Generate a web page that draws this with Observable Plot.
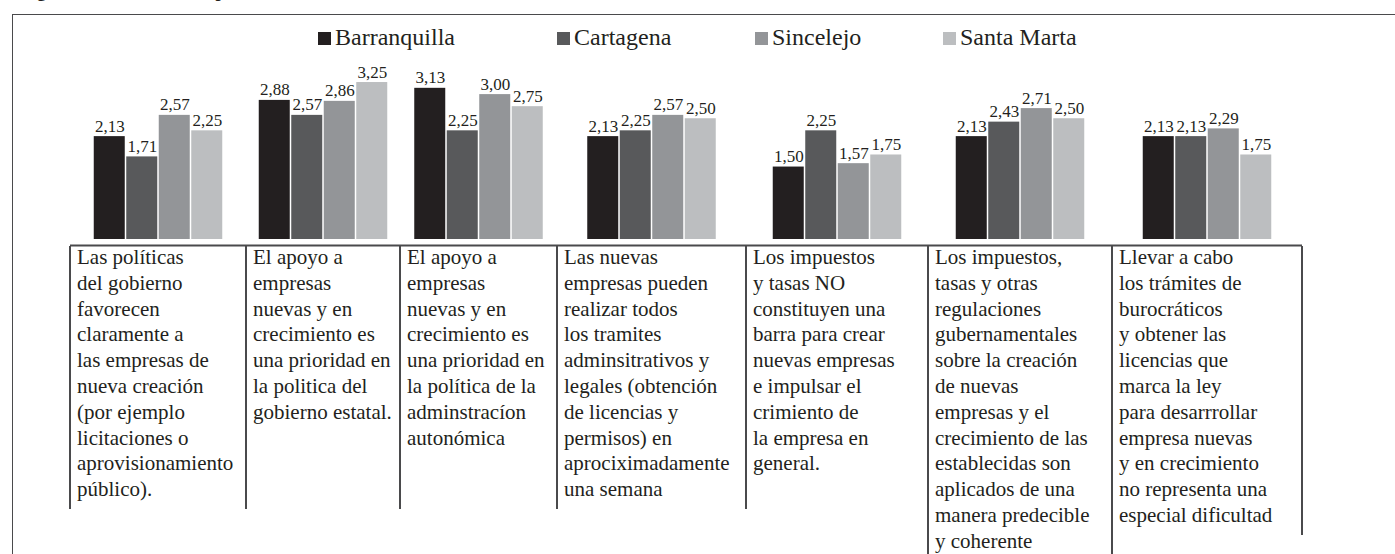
<!DOCTYPE html>
<html>
<head>
<meta charset="utf-8">
<script src="https://cdn.jsdelivr.net/npm/d3@7"></script>
<script src="https://cdn.jsdelivr.net/npm/@observablehq/plot@0.6"></script>
<style>
html, body { margin: 0; padding: 0; background: #fff; }
#fig { position: relative; width: 1395px; height: 554px; overflow: hidden;
  font-family: "Liberation Serif", "Times New Roman", serif; color: #231f20; }
#fig svg { position: absolute; left: 0; top: 0; }
.title { position: absolute; left: 21px; top: -18px; font-size: 18px; line-height: 18px; font-weight: bold; white-space: nowrap; }
.box { position: absolute; left: 12px; top: 14px; width: 1600px; height: 800px; border: 1.5px solid #4a4a4c; box-sizing: border-box; }
.leg { position: absolute; top: 25px; font-size: 24px; line-height: 24px; white-space: nowrap; }
.leg i { display: inline-block; width: 13px; height: 13px; position: relative; top: 0px; margin-right: 4px; }
.cell { position: absolute; top: 245px; font-size: 21px; line-height: 25.8px; white-space: pre; box-sizing: border-box; padding-left: 7px; }
.sep { position: absolute; top: 246px; width: 1.6px; background: #4a4a4c; }
</style>
</head>
<body>
<div id="fig"></div>
<script>
// ---- data ----
const categories = [
  "Las políticas\ndel gobierno\nfavorecen\nclaramente a\nlas empresas de\nnueva creación\n(por ejemplo\nlicitaciones o\naprovisionamiento\npúblico).",
  "El apoyo a\nempresas\nnuevas y en\ncrecimiento es\nuna prioridad en\nla politica del\ngobierno estatal.",
  "El apoyo a\nempresas\nnuevas y en\ncrecimiento es\nuna prioridad en\nla política de la\nadminstracíon\nautonómica",
  "Las nuevas\nempresas pueden\nrealizar todos\nlos tramites\nadminsitrativos y\nlegales (obtención\nde licencias y\npermisos) en\naprociximadamente\nuna semana",
  "Los impuestos\ny tasas NO\nconstituyen una\nbarra para crear\nnuevas empresas\ne impulsar el\ncrimiento de\nla empresa en\ngeneral.",
  "Los impuestos,\ntasas y otras\nregulaciones\ngubernamentales\nsobre la creación\nde nuevas\nempresas y el\ncrecimiento de las\nestablecidas son\naplicados de una\nmanera predecible\ny coherente",
  "Llevar a cabo\nlos trámites de\nburocráticos\ny obtener las\nlicencias que\nmarca la ley\npara desarrrollar\nempresa nuevas\ny en crecimiento\nno representa una\nespecial dificultad"
];
const series = ["Barranquilla", "Cartagena", "Sincelejo", "Santa Marta"];
const barranquilla = [2.13, 2.88, 3.13, 2.13, 1.50, 2.13, 2.13];
const cartagena    = [1.71, 2.57, 2.25, 2.25, 2.25, 2.43, 2.13];
const sincelejo    = [2.57, 2.86, 3.00, 2.57, 1.57, 2.71, 2.29];
const santaMarta   = [2.25, 3.25, 2.75, 2.50, 1.75, 2.50, 1.75];
const titleText = "Figura 4. Políticas del emprendimiento";

// ---- layout / style ----
const serif = "Liberation Serif";
const colors = ["#231f20", "#58595b", "#939598", "#bcbec0"];
const colEdges = [70, 246, 400, 557, 746, 928, 1112, 1302];
const legendLeft = [318, 557, 755, 943];
const barW = 31, barStep = 32.5;

const values = [barranquilla, cartagena, sincelejo, santaMarta];
const rows = [];
series.forEach((s, j) => categories.forEach((c, gi) => rows.push({series: s, category: c, gi, value: values[j][gi]})));

const fmt = v => d3.format(".2f")(v).replace(".", ",");

const marks = [];
series.forEach((s, j) => {
  const data = rows.filter(d => d.series === s);
  const off = (j - (series.length - 1) / 2) * barStep;
  marks.push(Plot.rect(data, {
    x1: d => d.gi + 0.5, x2: d => d.gi + 0.5, y1: 0, y2: "value",
    fill: colors[j], insetLeft: -barW / 2, insetRight: -barW / 2, dx: off
  }));
  marks.push(Plot.text(data, {
    x: d => d.gi + 0.5, y: "value", text: d => fmt(d.value),
    dx: off, dy: -5, lineAnchor: "bottom", fontSize: 17, fontFamily: serif, fill: "#231f20"
  }));
});
marks.push(Plot.ruleY([0], {dy: 6, stroke: "#4a4a4c", strokeWidth: 2.2}));

const chart = Plot.plot({
  width: 1395, height: 554,
  marginLeft: colEdges[0], marginRight: 1395 - colEdges[colEdges.length - 1],
  marginTop: 60, marginBottom: 315,
  x: {type: "linear", domain: d3.range(colEdges.length), range: colEdges, axis: null},
  y: {domain: [0, 3.5], range: [239, 239 - 3.5 * 48.3], axis: null},
  style: {fontFamily: serif, background: "transparent", color: "#231f20"},
  marks
});

const fig = document.getElementById("fig");
fig.appendChild(chart);

// outer box and cropped title
const box = document.createElement("div"); box.className = "box"; fig.appendChild(box);
const title = document.createElement("div"); title.className = "title"; title.textContent = titleText; fig.appendChild(title);

// legend
series.forEach((s, j) => {
  const el = document.createElement("div");
  el.className = "leg";
  el.style.left = legendLeft[j] + "px";
  const sw = document.createElement("i"); sw.style.background = colors[j];
  el.appendChild(sw);
  el.appendChild(document.createTextNode(s));
  fig.appendChild(el);
});

// category table
const lineCounts = categories.map(c => c.split("\n").length);
categories.forEach((c, i) => {
  const el = document.createElement("div");
  el.className = "cell";
  el.style.left = colEdges[i] + "px";
  el.style.width = (colEdges[i + 1] - colEdges[i]) + "px";
  el.textContent = c;
  fig.appendChild(el);
});
colEdges.forEach((x, k) => {
  const adj = Math.max(lineCounts[k - 1] || 0, lineCounts[k] || 0);
  const bottom = Math.max(509, 265 + (adj - 1) * 25.8 + 12);
  const el = document.createElement("div");
  el.className = "sep";
  el.style.left = (x - 0.8) + "px";
  el.style.height = (bottom - 246) + "px";
  fig.appendChild(el);
});
</script>
</body>
</html>
